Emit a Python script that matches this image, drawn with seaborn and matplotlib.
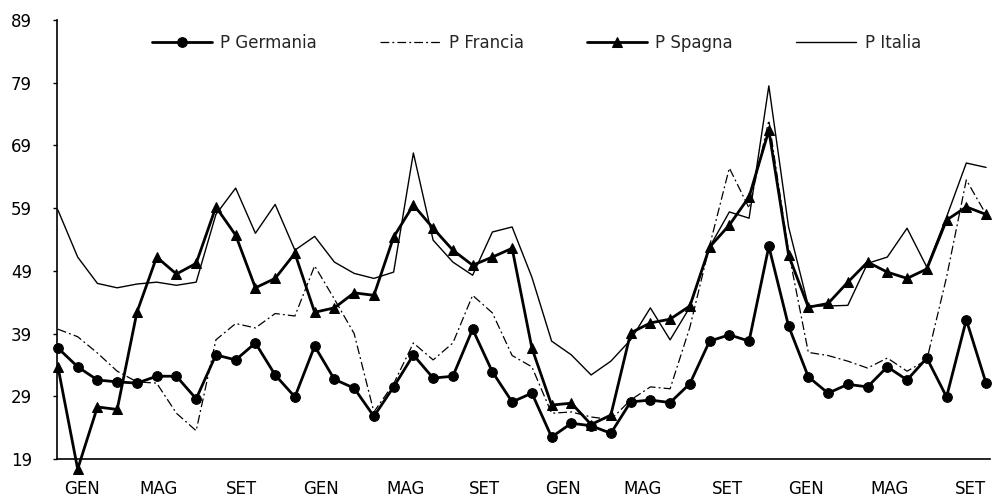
import seaborn as sns
import matplotlib.pyplot as plt

# monthly index, 4 years of data
months = list(range(48))

germania = [36.7, 33.7, 31.6, 31.3, 31.1, 32.2, 32.2, 28.6, 35.6, 34.8, 37.5, 32.4,
            28.9, 37.0, 31.7, 30.3, 25.8, 30.5, 35.6, 31.9, 32.2, 39.7, 32.9, 28.1,
            29.5, 22.5, 24.7, 24.3, 23.1, 28.1, 28.4, 28.0, 31.0, 37.8, 38.8, 37.8,
            52.9, 40.2, 32.1, 29.5, 30.9, 30.5, 33.7, 31.6, 35.1, 28.9, 41.2, 31.1]

francia = [39.7, 38.5, 35.9, 33.0, 31.3, 31.1, 26.3, 23.5, 38.0, 40.6, 39.9, 42.2,
           41.8, 49.8, 44.5, 39.0, 26.5, 31.0, 37.5, 34.8, 37.5, 45.1, 42.3, 35.5,
           33.7, 26.3, 26.5, 25.7, 25.3, 28.4, 30.5, 30.2, 40.0, 53.0, 65.4, 59.0,
           73.0, 52.0, 36.0, 35.5, 34.6, 33.5, 35.1, 33.0, 34.8, 48.0, 63.5, 58.0]

spagna = [33.7, 17.4, 27.3, 26.9, 42.4, 51.2, 48.5, 50.2, 59.2, 54.7, 46.3, 47.8,
          51.8, 42.4, 43.1, 45.5, 45.1, 54.4, 59.5, 55.8, 52.3, 49.9, 51.2, 52.6,
          36.7, 27.6, 27.9, 24.5, 26.0, 39.1, 40.7, 41.3, 43.4, 52.8, 56.3, 60.8,
          71.4, 51.5, 43.2, 43.8, 47.2, 50.4, 48.8, 47.8, 49.3, 57.1, 59.2, 58.0]

italia = [58.7, 51.2, 47.0, 46.3, 46.9, 47.2, 46.7, 47.2, 58.0, 62.2, 55.0, 59.6,
          52.3, 54.5, 50.4, 48.6, 47.8, 48.8, 67.8, 53.9, 50.4, 48.3, 55.2, 56.0,
          48.0, 37.8, 35.6, 32.4, 34.6, 38.0, 43.1, 38.0, 43.2, 52.8, 58.4, 57.4,
          78.5, 56.0, 43.4, 43.4, 43.5, 50.2, 51.2, 55.8, 49.6, 57.6, 66.2, 65.5]

tick_pos = [1.2, 5.1, 9.3, 13.3, 17.6, 21.6, 25.6, 29.6, 33.9, 37.9, 42.1, 46.2]
tick_labels = ["GEN", "MAG", "SET"] * 4
y_ticks = [19, 29, 39, 49, 59, 69, 79, 89]

sns.set_style("ticks")
plt.rcParams["font.family"] = ["DejaVu Sans"]

fig = plt.figure(figsize=(9.99, 4.96), dpi=100)
ax = fig.add_axes([0.057, 0.0746, 0.934, 0.885])

sns.lineplot(x=months, y=germania, ax=ax, color="black", lw=2, marker="o",
             markersize=7, markeredgecolor="black", label="P Germania",
             sort=False, errorbar=None, clip_on=False)
sns.lineplot(x=months, y=francia, ax=ax, color="black", lw=0.9,
             linestyle=(0, (7, 2.5, 1.5, 2.5)), label="P Francia",
             sort=False, errorbar=None, clip_on=False)
sns.lineplot(x=months, y=spagna, ax=ax, color="black", lw=2, marker="^",
             markersize=7, markeredgecolor="black", label="P Spagna",
             sort=False, errorbar=None, clip_on=False)
sns.lineplot(x=months, y=italia, ax=ax, color="black", lw=1.0, label="P Italia",
             sort=False, errorbar=None, clip_on=False)

ax.set_xlim(-0.05, 47.2)
ax.set_ylim(19, 89)
ax.set_yticks(y_ticks)
ax.set_xticks(tick_pos)
ax.set_xticklabels(tick_labels)
ax.tick_params(axis="y", direction="out", length=3, width=1, pad=15,
               labelsize=12, colors="black")
ax.tick_params(axis="x", length=0, pad=15, labelsize=12, colors="black")
sns.despine(ax=ax)
for side in ["left", "bottom"]:
    ax.spines[side].set_color("black")
    ax.spines[side].set_linewidth(1.2)

handles, labels = ax.get_legend_handles_labels()
ax.legend(handles, labels, loc="center", bbox_to_anchor=(0.537, 0.913),
          bbox_transform=fig.transFigure, ncol=4, frameon=False, fontsize=12,
          handlelength=3.6, handletextpad=0.5, columnspacing=3.8, borderpad=0)

fig.savefig("out.png", dpi=100)
